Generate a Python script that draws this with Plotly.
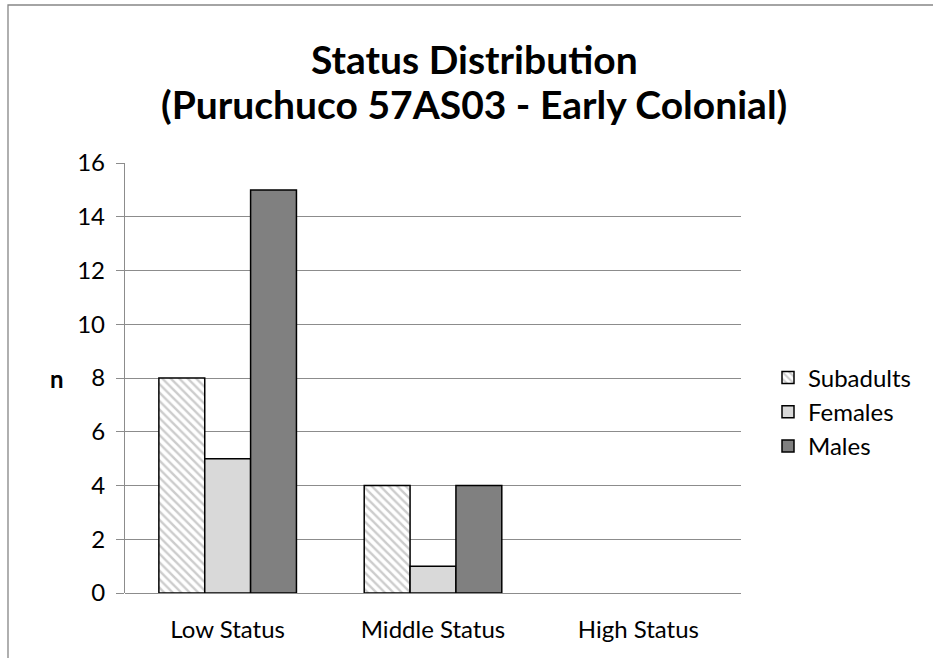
import plotly.graph_objects as go

categories = ["Low Status", "Middle Status", "High Status"]
subadults = [8, 4, 0]
females = [5, 1, 0]
males = [15, 4, 0]
y_ticks = [0, 2, 4, 6, 8, 10, 12, 14, 16]
title_lines = ["Status Distribution", "(Puruchuco 57AS03 - Early Colonial)"]

FONT = "Lato, 'Open Sans', sans-serif"
GRID = "#8c8c8c"
TICK_SIZE = 24


def outline_widths(values, width=1.5):
    # empty categories get no outline so nothing is drawn for them
    return [width if v else 0 for v in values]


fig = go.Figure()
fig.add_trace(go.Bar(
    name="Subadults", x=categories, y=subadults,
    marker=dict(color="white", line=dict(color="black", width=outline_widths(subadults)),
                pattern=dict(shape="\\", fgcolor="#9a9a9a", bgcolor="white",
                             size=6, solidity=0.4)),
))
fig.add_trace(go.Bar(
    name="Females", x=categories, y=females,
    marker=dict(color="#d9d9d9", line=dict(color="black", width=outline_widths(females))),
))
fig.add_trace(go.Bar(
    name="Males", x=categories, y=males,
    marker=dict(color="#808080", line=dict(color="black", width=outline_widths(males))),
))

W, H = 933, 658
L, R, T, B = 125, 192, 163, 65
pw, ph = W - L - R, H - T - B


def py(pixel_y):
    return (H - B - pixel_y) / ph


def px(pixel_x):
    return (pixel_x - L) / pw


annotations = [
    dict(text=f"<b>{line}</b>", xref="paper", yref="paper", x=px(474), y=py(cy),
         showarrow=False, xanchor="center", yanchor="middle",
         font=dict(family=FONT, size=39, color="black"))
    for line, cy in zip(title_lines, [59, 104])
]
annotations.append(dict(text="<b>n</b>", xref="paper", yref="paper",
                        x=px(57), y=py(378), showarrow=False,
                        xanchor="center", yanchor="middle",
                        font=dict(family=FONT, size=TICK_SIZE, color="black")))

fig.update_layout(
    width=W, height=H,
    margin=dict(l=L, r=R, t=T, b=B),
    paper_bgcolor="white", plot_bgcolor="white",
    barmode="group", bargap=0.33, bargroupgap=0,
    font=dict(family=FONT, size=TICK_SIZE, color="black"),
    showlegend=True,
    legend=dict(x=px(768), y=py(412), xanchor="left", yanchor="middle",
                font=dict(family=FONT, size=TICK_SIZE), tracegroupgap=0,
                itemwidth=30, bgcolor="rgba(0,0,0,0)"),
    xaxis=dict(showgrid=False, showline=False, ticks="",
               tickfont=dict(family=FONT, size=TICK_SIZE), ticklabelstandoff=20),
    yaxis=dict(range=[0, 16], tickvals=y_ticks, showgrid=True, gridcolor=GRID, gridwidth=1.3,
               showline=True, linecolor=GRID, linewidth=1.3, ticks="outside", ticklen=8,
               tickcolor=GRID, tickwidth=1.3, zeroline=True, zerolinecolor=GRID,
               zerolinewidth=1.3, tickfont=dict(family=FONT, size=TICK_SIZE),
               ticklabelstandoff=6),
    annotations=annotations,
    shapes=[dict(type="rect", xref="paper", yref="paper",
                 x0=px(8), x1=2.0, y0=-1.0, y1=py(5),
                 line=dict(color="#868686", width=1.3), fillcolor="rgba(0,0,0,0)",
                 layer="below")],
)

fig.write_html("out.html")
